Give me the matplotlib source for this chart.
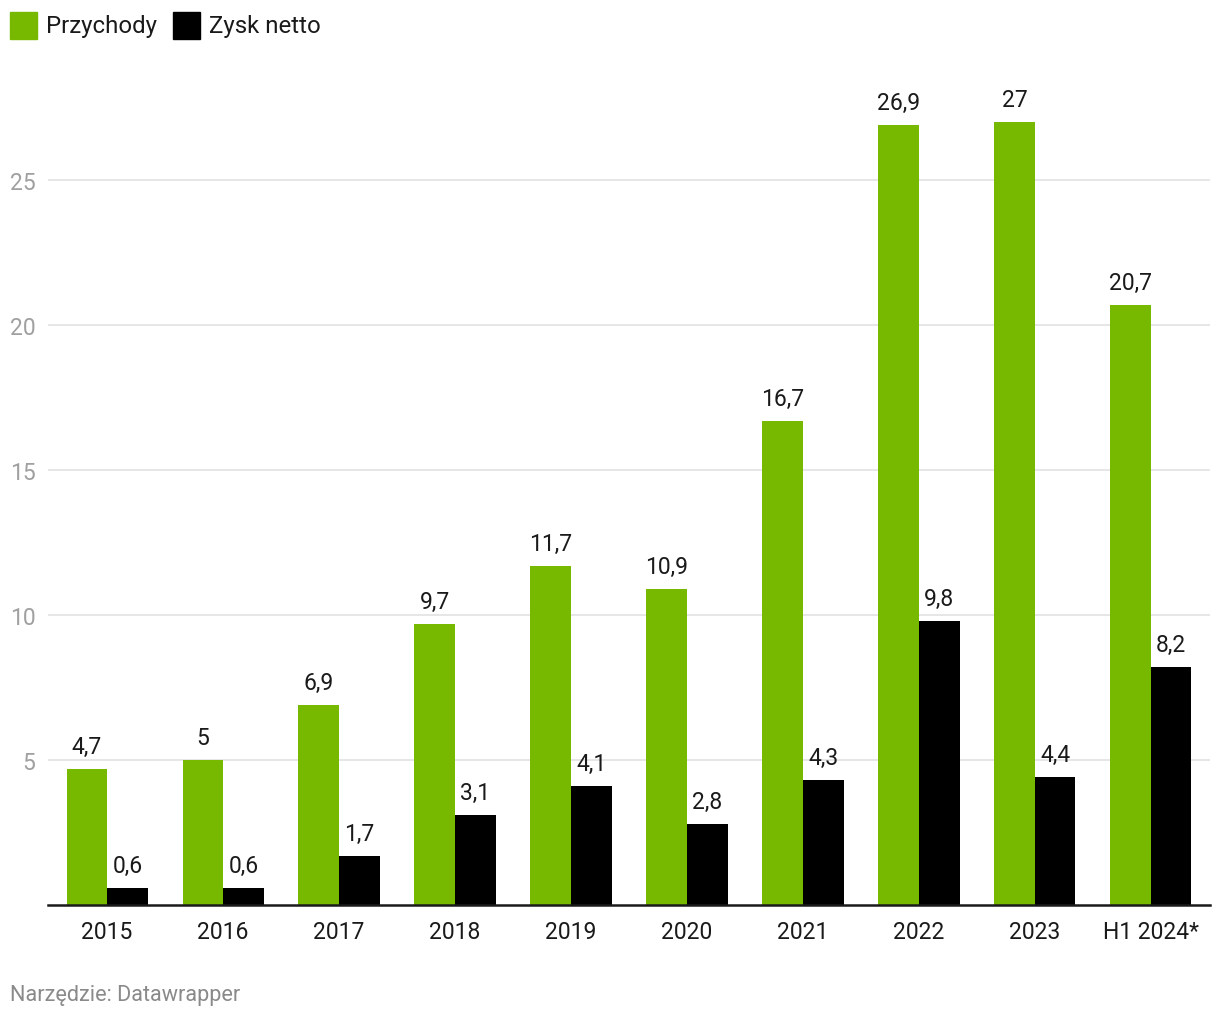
import matplotlib.pyplot as plt
import numpy as np
from matplotlib.patches import Rectangle

plt.rcParams['font.family'] = ['Roboto', 'DejaVu Sans']

# data
years = ['2015', '2016', '2017', '2018', '2019', '2020', '2021', '2022', '2023', 'H1 2024*']
revenue = [4.7, 5.0, 6.9, 9.7, 11.7, 10.9, 16.7, 26.9, 27.0, 20.7]
net_profit = [0.6, 0.6, 1.7, 3.1, 4.1, 2.8, 4.3, 9.8, 4.4, 8.2]
rev_labels = ['4,7', '5', '6,9', '9,7', '11,7', '10,9', '16,7', '26,9', '27', '20,7']
profit_labels = ['0,6', '0,6', '1,7', '3,1', '4,1', '2,8', '4,3', '9,8', '4,4', '8,2']

green = '#76b900'
black = '#000000'

fig = plt.figure(figsize=(12.2, 10.2), dpi=100)
ax = fig.add_axes([48/1220, 114/1020, 1162/1220, 825/1020])

x = np.arange(len(years))
w = 0.35
b1 = ax.bar(x - w/2, revenue, w, color=green, zorder=3)
b2 = ax.bar(x + w/2, net_profit, w, color=black, zorder=3)

for bars, labels in [(b1, rev_labels), (b2, profit_labels)]:
    for bar, lab in zip(bars, labels):
        ax.annotate(lab, (bar.get_x() + bar.get_width()/2, bar.get_height()),
                    xytext=(0, 8), textcoords='offset points',
                    ha='center', va='bottom', fontsize=16.5, color='#1a1a1a')

ax.set_xlim(-0.51, 9.51)
ax.set_ylim(0, 28.45)
ax.set_yticks([5, 10, 15, 20, 25])
ax.set_yticklabels(['5', '10', '15', '20', '25'])
ax.set_xticks(x)
ax.set_xticklabels(years)
ax.tick_params(axis='y', length=0, pad=9, labelsize=16.5, labelcolor='#a0a0a0')
ax.tick_params(axis='x', length=0, pad=11, labelsize=16.5, labelcolor='#1a1a1a')
ax.grid(axis='y', color='#e2e2e2', linewidth=1.2, zorder=0)
for s in ['top', 'right', 'left']:
    ax.spines[s].set_visible(False)
ax.spines['bottom'].set_color('#1a1a1a')
ax.spines['bottom'].set_linewidth(1.8)
ax.spines['bottom'].set_zorder(4)

# legend drawn by hand
fig.patches.append(Rectangle((10/1220, 1-40/1020), 27/1220, 27/1020,
                             transform=fig.transFigure, color=green))
fig.text(46/1220, 1-26/1020, 'Przychody', fontsize=17.3, color='#1a1a1a', va='center')
fig.patches.append(Rectangle((173/1220, 1-40/1020), 27/1220, 27/1020,
                             transform=fig.transFigure, color=black))
fig.text(209/1220, 1-26/1020, 'Zysk netto', fontsize=17.3, color='#1a1a1a', va='center')

fig.text(10/1220, 1-996/1020, 'Narzędzie: Datawrapper', fontsize=15.6, color='#8a8a8a', va='center')

fig.savefig('out.png', dpi=100)
